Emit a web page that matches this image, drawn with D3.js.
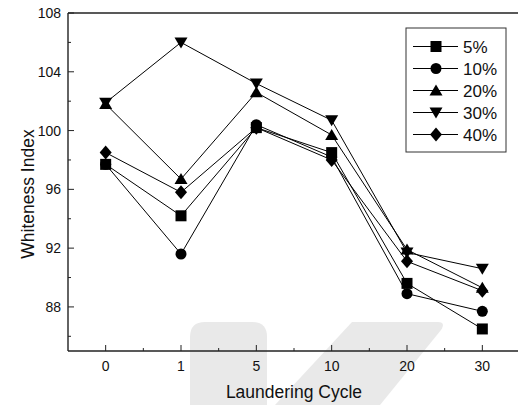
<!DOCTYPE html>
<html>
<head>
<meta charset="utf-8">
<script src="https://cdn.jsdelivr.net/npm/d3@7"></script>
<style>
  html, body { margin: 0; padding: 0; background: #fff; }
  svg { display: block; font-family: "Liberation Sans", Arial, sans-serif; }
</style>
</head>
<body>
<svg id="chart" width="518" height="405"></svg>
<script>
// Laundering cycles on the x axis
const cycles = ["0", "1", "5", "10", "20", "30"];
// Whiteness index per concentration
const s5  = [97.7, 94.2, 100.2, 98.5, 89.6, 86.5];
const s10 = [97.7, 91.6, 100.4, 98.2, 88.9, 87.7];
const s20 = [101.8, 96.7, 102.6, 99.7, 91.9, 89.3];
const s30 = [101.9, 106.0, 103.2, 100.7, 91.7, 90.6];
const s40 = [98.5, 95.8, 100.2, 98.0, 91.1, 89.1];
const seriesNames = ["5%", "10%", "20%", "30%", "40%"];
const yMajorTicks = [88, 92, 96, 100, 104, 108];
const yMinorTicks = [86, 90, 94, 98, 102, 106];

const series = [
  { name: seriesNames[0], values: s5,  shape: "square" },
  { name: seriesNames[1], values: s10, shape: "circle" },
  { name: seriesNames[2], values: s20, shape: "up" },
  { name: seriesNames[3], values: s30, shape: "down" },
  { name: seriesNames[4], values: s40, shape: "diamond" }
];

const svg = d3.select("#chart");
const plotL = 68, plotR = 520, plotT = 13, plotB = 351;

const x = d3.scalePoint().domain(cycles).range([plotL, plotR]).padding(0.5);
const y = d3.scaleLinear().domain([85, 108]).range([plotB, plotT]);

// faint background emblem
const emb = svg.append("g").attr("fill", "#e9e9e9");
emb.append("path").attr("d", "M190,337 Q190,322 205,322 L252,322 Q267,322 267,337 L267,405 L190,405 Z");
emb.append("path").attr("d", "M352,322 L438,322 Q446,322 441,330 L380,405 L275,405 Z");

// marker symbols
function markerPath(shape) {
  switch (shape) {
    case "square": return "M-5.5,-5.5H5.5V5.5H-5.5Z";
    case "circle": return d3.symbol(d3.symbolCircle, 95)();
    case "up": return "M0,-6L6.5,5H-6.5Z";
    case "down": return "M0,6L6.5,-5H-6.5Z";
    case "diamond": return "M0,-7L6,0L0,7L-6,0Z";
  }
}

// series lines
const line = d3.line().x((d, i) => x(cycles[i])).y(d => y(d));
series.forEach(s => {
  svg.append("path")
    .attr("d", line(s.values))
    .attr("fill", "none")
    .attr("stroke", "#000")
    .attr("stroke-width", 1);
});
series.forEach(s => {
  svg.append("g").selectAll("path")
    .data(s.values)
    .join("path")
    .attr("transform", (d, i) => `translate(${x(cycles[i])},${y(d)})`)
    .attr("d", markerPath(s.shape))
    .attr("fill", "#000");
});

// axes frame
const axisG = svg.append("g").attr("stroke", "#222").attr("stroke-width", 1.4);
axisG.append("line").attr("x1", plotL).attr("x2", plotL).attr("y1", plotT).attr("y2", plotB);
axisG.append("line").attr("x1", plotL).attr("x2", plotR).attr("y1", plotB).attr("y2", plotB);
axisG.append("line").attr("x1", plotL).attr("x2", plotR).attr("y1", plotT).attr("y2", plotT);

// x ticks (inward)
const step = x.step();
cycles.forEach(c => {
  axisG.append("line").attr("x1", x(c)).attr("x2", x(c)).attr("y1", plotB).attr("y2", plotB - 6).attr("stroke-width", 1);
  axisG.append("line").attr("x1", x(c) + step / 2).attr("x2", x(c) + step / 2).attr("y1", plotB).attr("y2", plotB - 3).attr("stroke-width", 1);
});
svg.append("g").selectAll("text").data(cycles).join("text")
  .attr("x", d => x(d)).attr("y", 370.5)
  .attr("text-anchor", "middle").attr("font-size", 14).attr("fill", "#111")
  .text(d => d);

// y ticks (inward)
yMajorTicks.forEach(v => {
  axisG.append("line").attr("x1", plotL).attr("x2", plotL + 6).attr("y1", y(v)).attr("y2", y(v)).attr("stroke-width", 1);
});
yMinorTicks.forEach(v => {
  axisG.append("line").attr("x1", plotL).attr("x2", plotL + 3).attr("y1", y(v)).attr("y2", y(v)).attr("stroke-width", 1);
});
svg.append("g").selectAll("text").data(yMajorTicks).join("text")
  .attr("x", 61).attr("y", d => y(d)).attr("dy", "0.36em")
  .attr("text-anchor", "end").attr("font-size", 14).attr("fill", "#111")
  .text(d => d);

// axis titles
svg.append("text").attr("x", (plotL + plotR) / 2).attr("y", 398)
  .attr("text-anchor", "middle").attr("font-size", 17.5).attr("fill", "#111")
  .text("Laundering Cycle");
svg.append("text")
  .attr("transform", `translate(34,${(plotT + plotB) / 2 + 12}) rotate(-90)`)
  .attr("text-anchor", "middle").attr("font-size", 17.5).attr("fill", "#111")
  .text("Whiteness Index");

// legend
const lg = svg.append("g");
lg.append("rect").attr("x", 406).attr("y", 28).attr("width", 100).attr("height", 124)
  .attr("fill", "#fff").attr("stroke", "#333").attr("stroke-width", 1);
series.forEach((s, i) => {
  const ly = 46.5 + i * 22;
  lg.append("line").attr("x1", 413).attr("x2", 458).attr("y1", ly).attr("y2", ly).attr("stroke", "#000").attr("stroke-width", 1);
  lg.append("path").attr("transform", `translate(436,${ly})`).attr("d", markerPath(s.shape)).attr("fill", "#000");
  lg.append("text").attr("x", 463).attr("y", ly).attr("dy", "0.36em")
    .attr("font-size", 17).attr("fill", "#111").text(s.name);
});
</script>
</body>
</html>
